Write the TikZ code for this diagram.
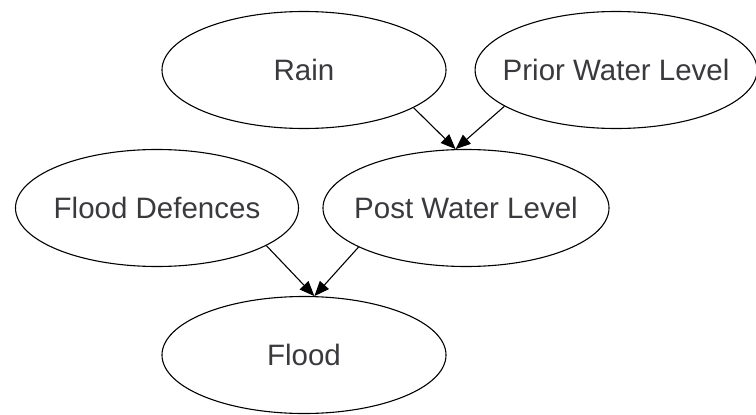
\documentclass[tikz,border=0pt]{standalone}
\usepackage{fontspec}
\setmainfont{Liberation Sans}
\usepackage{xcolor}
\usetikzlibrary{arrows.meta,positioning,shapes.geometric}
\definecolor{txt}{RGB}{58,58,62}
\tikzset{
  var/.style={ellipse, draw, line width=1.1pt, align=center, text=txt,
              font=\fontsize{29.5}{34}\selectfont, inner sep=-40pt,
              minimum width=284pt, minimum height=117pt},
  dep/.style={-{Triangle[length=15pt, width=12pt]}, line width=1.1pt},
}

\begin{document}
\begin{tikzpicture}[x=1pt, y=-1pt]
\useasboundingbox (0,0) rectangle (756,415);
\node[var] (rain) at (304,70) {Rain};
\node[var, minimum width=282pt, right=28pt of rain] (prior) {Prior Water Level};
\node[var, minimum width=286pt] (post) at (466,208) {Post Water Level};
\node[var, minimum width=283pt] (defc) at (157,208) {Flood Defences};
\node[var] (flood) at (304,355) {Flood};
\draw[dep] (rain.-19) -- (post.100);
\draw[dep] (prior.198) -- (post.100);
\draw[dep] (defc.-19) -- (flood.80);
\draw[dep] (post.200) -- (flood.80);
\end{tikzpicture}
\end{document}
